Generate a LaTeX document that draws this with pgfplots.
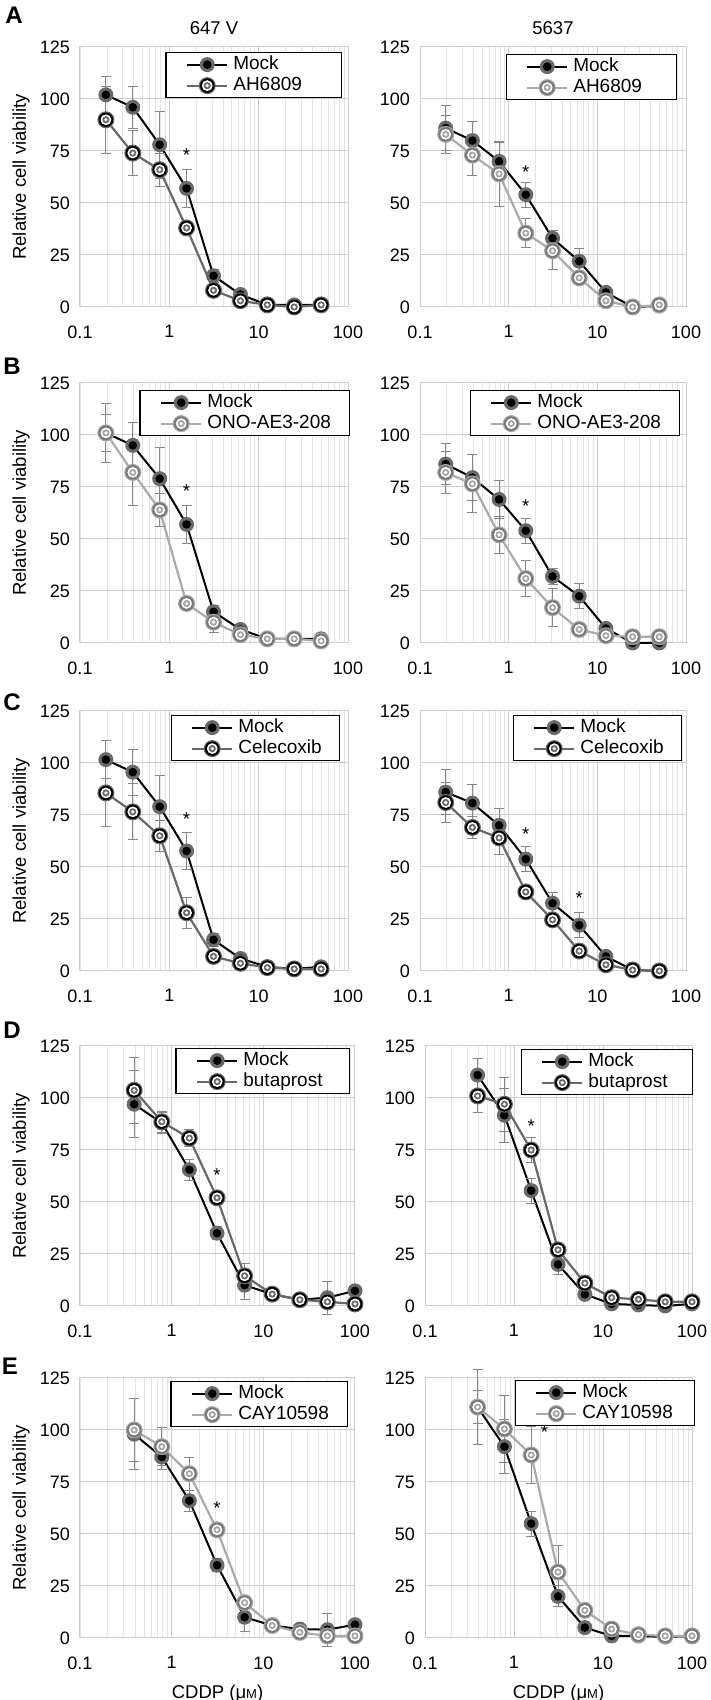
\documentclass[border=0pt]{standalone}
\usepackage{fontspec}
\setmainfont{Liberation Sans}
\usepackage{pgfplots}
\pgfplotsset{compat=1.18}

\definecolor{gridmaj}{RGB}{205,205,205}
\definecolor{gridmin}{RGB}{228,228,228}
\definecolor{errcol}{RGB}{135,135,135}
\definecolor{halo}{RGB}{105,105,105}
\definecolor{lineDark}{RGB}{105,105,105}
\definecolor{lineLight}{RGB}{170,170,170}
\definecolor{ringLight}{RGB}{120,120,120}
\definecolor{haloLight}{RGB}{165,165,165}

% Mock: black dot in a grey halo
\pgfdeclareplotmark{mock}{%
  \pgfsetfillcolor{halo}\pgfpathcircle{\pgfpointorigin}{7.5pt}\pgfusepathqfill
  \pgfsetfillcolor{black}\pgfpathcircle{\pgfpointorigin}{4.3pt}\pgfusepathqfill}
% treatment: concentric rings, dark and light variants
\pgfdeclareplotmark{ringdark}{%
  \pgfsetfillcolor{halo}\pgfpathcircle{\pgfpointorigin}{8.5pt}\pgfusepathqfill
  \pgfsetfillcolor{black}\pgfpathcircle{\pgfpointorigin}{7.3pt}\pgfusepathqfill
  \pgfsetfillcolor{white}\pgfpathcircle{\pgfpointorigin}{5.4pt}\pgfusepathqfill
  \pgfsetfillcolor{halo}\pgfpathcircle{\pgfpointorigin}{3.6pt}\pgfusepathqfill
  \pgfsetfillcolor{white}\pgfpathcircle{\pgfpointorigin}{1.8pt}\pgfusepathqfill}
\pgfdeclareplotmark{ringlight}{%
  \pgfsetfillcolor{haloLight}\pgfpathcircle{\pgfpointorigin}{8.5pt}\pgfusepathqfill
  \pgfsetfillcolor{ringLight}\pgfpathcircle{\pgfpointorigin}{7.3pt}\pgfusepathqfill
  \pgfsetfillcolor{white}\pgfpathcircle{\pgfpointorigin}{5.4pt}\pgfusepathqfill
  \pgfsetfillcolor{haloLight}\pgfpathcircle{\pgfpointorigin}{3.6pt}\pgfusepathqfill
  \pgfsetfillcolor{white}\pgfpathcircle{\pgfpointorigin}{1.8pt}\pgfusepathqfill}

\pgfplotsset{
  every axis/.append style={scale only axis, xmin=0.1, xmax=100, ymin=0, ymax=125, clip=false,
    xtick={0.1,1,10,100}, xticklabels={0.1,1,10,100},
    ytick={0,25,50,75,100,125}, yticklabels={0,25,50,75,100,125},
    grid=both, major grid style={draw=gridmaj, line width=1pt},
    minor grid style={draw=gridmin, line width=0.7pt},
    axis line style={draw=gridmaj, line width=1pt},
    major tick length=0pt, minor tick length=0pt,
    tick label style={font=\fontsize{18}{18}\selectfont},
    xticklabel style={yshift=-15pt}, yticklabel style={xshift=-6.5pt},
    legend cell align=left,
    legend style={at={(1,1)}, anchor=north east, draw=black, line width=1.3pt, fill=white,
      inner xsep=8pt, inner ysep=1.5pt, row sep=0pt, font=\fontsize{19}{20}\selectfont,
      nodes={inner xsep=5pt, inner ysep=1.5pt, text height=14pt, text depth=4pt, align=left}},
  },
  legend image code/.code={\path (-12pt,0pt);
    \draw[mark repeat=2,mark phase=2,#1] plot coordinates {(0pt,0pt) (20pt,0pt) (40pt,0pt)};},
  errs/.style={error bars/y dir=both, error bars/y explicit,
    error bars/error bar style={draw=errcol, line width=1pt},
    error bars/error mark options={rotate=90, draw=errcol, line width=1pt, mark size=5pt}},
  mockp/.style={errs, draw=black, line width=2pt, mark=mock},
  darkp/.style={errs, draw=lineDark, line width=2.2pt, mark=ringdark},
  lightp/.style={errs, draw=lineLight, line width=2.2pt, mark=ringlight},
}

\begin{document}
\begin{tikzpicture}[font=\fontsize{18.5}{20}\selectfont]
\path[use as bounding box] (0,0) rectangle (710pt,1700pt);

\node[font=\fontsize{24}{24}\selectfont\bfseries] at (14pt,1685pt) {A};
\node[font=\fontsize{24}{24}\selectfont\bfseries] at (12pt,1334pt) {B};
\node[font=\fontsize{24}{24}\selectfont\bfseries] at (12pt,998pt) {C};
\node[font=\fontsize{24}{24}\selectfont\bfseries] at (12pt,670pt) {D};
\node[font=\fontsize{24}{24}\selectfont\bfseries] at (10pt,334pt) {E};

% ---- row A ----
\begin{semilogxaxis}[at={(80pt,1393pt)}, anchor=south west, width=268pt, height=260pt,
  legend style={xshift=-6pt, yshift=-5pt, nodes={text width=95pt}}]
\addplot[mockp] coordinates {(0.195,102) +- (0,9) (0.39,96) +- (0,10) (0.78,78) +- (0,16)
  (1.56,57) +- (0,9) (3.125,15) +- (0,3) (6.25,6) +- (0,2) (12.5,1) +- (0,1) (25,1) +- (0,1) (50,1) +- (0,1)};
\addlegendentry{Mock}
\addplot[darkp] coordinates {(0.195,90) +- (0,16) (0.39,74) +- (0,11) (0.78,66) +- (0,8)
  (1.56,38) +- (0,3) (3.125,8) +- (0,2) (6.25,3) +- (0,1) (12.5,1) +- (0,1) (25,0) +- (0,1) (50,1) +- (0,1)};
\addlegendentry{AH6809}
\node at (axis cs:1.56,73) {*};
\node[rotate=90] at ([xshift=-59pt]rel axis cs:0,0.5) {Relative cell viability};
\node at ([yshift=19pt]rel axis cs:0.5,1) {647 V};
\end{semilogxaxis}

\begin{semilogxaxis}[at={(420pt,1393pt)}, anchor=south west, width=266pt, height=260pt,
  legend style={xshift=-9pt, yshift=-7pt, nodes={text width=90pt}}]
\addplot[mockp] coordinates {(0.195,86) +- (0,11) (0.39,80) +- (0,9) (0.78,70) +- (0,9)
  (1.56,54) +- (0,6) (3.125,33) +- (0,4) (6.25,22) +- (0,6) (12.5,7) +- (0,2) (25,0) +- (0,1) (50,0.5) +- (0,1)};
\addlegendentry{Mock}
\addplot[lightp] coordinates {(0.195,83) +- (0,9) (0.39,73) +- (0,10) (0.78,64) +- (0,15.5)
  (1.56,35.5) +- (0,7) (3.125,27) +- (0,9) (6.25,14) +- (0,2) (12.5,3) +- (0,2) (25,0) +- (0,1) (50,1) +- (0,1)};
\addlegendentry{AH6809}
\node at (axis cs:1.56,65) {*};
\node at ([yshift=19pt]rel axis cs:0.5,1) {5637};
\end{semilogxaxis}

% ---- row B ----
\begin{semilogxaxis}[at={(80pt,1057pt)}, anchor=south west, width=268pt, height=260pt,
  legend style={xshift=2pt, yshift=-7pt, nodes={text width=129pt}}]
\addplot[mockp] coordinates {(0.195,101) +- (0,9) (0.39,95) +- (0,11) (0.78,79) +- (0,15)
  (1.56,57) +- (0,9) (3.125,15) +- (0,3) (6.25,6.5) +- (0,2) (12.5,2) +- (0,1) (25,2) +- (0,1) (50,2) +- (0,1)};
\addlegendentry{Mock}
\addplot[lightp] coordinates {(0.195,101) +- (0,14) (0.39,82) +- (0,16) (0.78,64) +- (0,8)
  (1.56,19) +- (0,3) (3.125,10) +- (0,5) (6.25,4) +- (0,1) (12.5,2) +- (0,1) (25,2) +- (0,1) (50,1) +- (0,1)};
\addlegendentry{\mbox{ONO-AE3-208}}
\node at (axis cs:1.56,73) {*};
\node[rotate=90] at ([xshift=-59pt]rel axis cs:0,0.5) {Relative cell viability};
\end{semilogxaxis}

\begin{semilogxaxis}[at={(420pt,1057pt)}, anchor=south west, width=266pt, height=260pt,
  legend style={xshift=-6pt, yshift=-7pt, nodes={text width=129pt}}]
\addplot[mockp] coordinates {(0.195,86) +- (0,10) (0.39,79.5) +- (0,11) (0.78,69) +- (0,9)
  (1.56,54) +- (0,6) (3.125,32) +- (0,4) (6.25,22.5) +- (0,6) (12.5,7) +- (0,2) (25,0) +- (0,1) (50,0) +- (0,1)};
\addlegendentry{Mock}
\addplot[lightp] coordinates {(0.195,82) +- (0,10) (0.39,76.5) +- (0,14) (0.78,52) +- (0,9)
  (1.56,31) +- (0,8.5) (3.125,17) +- (0,9) (6.25,6.5) +- (0,2) (12.5,3.5) +- (0,2) (25,3) +- (0,1) (50,3) +- (0,1)};
\addlegendentry{\mbox{ONO-AE3-208}}
\node at (axis cs:1.56,66) {*};
\end{semilogxaxis}

% ---- row C ----
\begin{semilogxaxis}[at={(80pt,729pt)}, anchor=south west, width=268pt, height=260pt,
  legend style={xshift=-8pt, yshift=-4pt, nodes={text width=88pt}}]
\addplot[mockp] coordinates {(0.195,101.6) +- (0,9) (0.39,95.6) +- (0,11) (0.78,79) +- (0,15)
  (1.56,57.7) +- (0,9) (3.125,15) +- (0,3) (6.25,6) +- (0,2) (12.5,2) +- (0,1) (25,1) +- (0,1) (50,2) +- (0,1)};
\addlegendentry{Mock}
\addplot[darkp] coordinates {(0.195,85.6) +- (0,16) (0.39,76.5) +- (0,13.5) (0.78,65) +- (0,7.5)
  (1.56,28) +- (0,7.5) (3.125,7) +- (0,2) (6.25,3.7) +- (0,1) (12.5,1.6) +- (0,1) (25,1) +- (0,1) (50,1) +- (0,1)};
\addlegendentry{Celecoxib}
\node at (axis cs:1.56,73) {*};
\node[rotate=90] at ([xshift=-59pt]rel axis cs:0,0.5) {Relative cell viability};
\end{semilogxaxis}

\begin{semilogxaxis}[at={(420pt,729pt)}, anchor=south west, width=266pt, height=260pt,
  legend style={xshift=-4pt, yshift=-4pt, nodes={text width=88pt}}]
\addplot[mockp] coordinates {(0.195,86) +- (0,11) (0.39,80.7) +- (0,9) (0.78,70) +- (0,8)
  (1.56,53.8) +- (0,6) (3.125,32.6) +- (0,5) (6.25,22) +- (0,6) (12.5,7) +- (0,2) (25,0.5) +- (0,1) (50,0) +- (0,1)};
\addlegendentry{Mock}
\addplot[darkp] coordinates {(0.195,81) +- (0,9.5) (0.39,69) +- (0,5.5) (0.78,64) +- (0,8)
  (1.56,38) +- (0,3) (3.125,24.6) +- (0,3) (6.25,9.6) +- (0,2) (12.5,3) +- (0,2) (25,0.5) +- (0,1) (50,0) +- (0,1)};
\addlegendentry{Celecoxib}
\node at (axis cs:1.56,66) {*};
\node at (axis cs:6.25,35) {*};
\end{semilogxaxis}

% ---- row D ----
\begin{semilogxaxis}[at={(80pt,394pt)}, anchor=south west, width=275pt, height=260pt,
  legend style={xshift=-5pt, yshift=-2pt, nodes={text width=93pt}}]
\addplot[mockp] coordinates {(0.39,97) +- (0,16) (0.78,88) +- (0,5) (1.56,65.5) +- (0,5)
  (3.125,35) +- (0,3) (6.25,10) +- (0,7) (12.5,5.7) +- (0,2) (25,3) +- (0,1) (50,4) +- (0,8) (100,7.3) +- (0,2)};
\addlegendentry{Mock}
\addplot[darkp] coordinates {(0.39,103.7) +- (0,16) (0.78,88.6) +- (0,5) (1.56,80.7) +- (0,4)
  (3.125,52) +- (0,3) (6.25,14.5) +- (0,6) (12.5,5.7) +- (0,2) (25,3) +- (0,1) (50,2) +- (0,1) (100,1) +- (0,1)};
\addlegendentry{butaprost}
\node at (axis cs:3.125,63) {*};
\node[rotate=90] at ([xshift=-59pt]rel axis cs:0,0.5) {Relative cell viability};
\end{semilogxaxis}

\begin{semilogxaxis}[at={(425pt,394pt)}, anchor=south west, width=267pt, height=260pt,
  legend style={xshift=1pt, yshift=-3pt, nodes={text width=91pt}}]
\addplot[mockp] coordinates {(0.39,111) +- (0,8) (0.78,91.7) +- (0,13) (1.56,55.5) +- (0,6)
  (3.125,20) +- (0,5) (6.25,5.6) +- (0,2) (12.5,1) +- (0,1) (25,0.5) +- (0,1) (50,0) +- (0,1) (100,1) +- (0,1)};
\addlegendentry{Mock}
\addplot[darkp] coordinates {(0.39,101) +- (0,8) (0.78,97) +- (0,13) (1.56,75) +- (0,6)
  (3.125,27) +- (0,3) (6.25,11) +- (0,2) (12.5,4) +- (0,1) (25,3.2) +- (0,1) (50,2) +- (0,1) (100,2) +- (0,1)};
\addlegendentry{butaprost}
\node at (axis cs:1.56,86.5) {*};
\end{semilogxaxis}

% ---- row E ----
\begin{semilogxaxis}[at={(80pt,62pt)}, anchor=south west, width=275pt, height=260pt,
  legend style={xshift=-7pt, yshift=-3pt, nodes={text width=96pt}}]
\addplot[mockp] coordinates {(0.39,98) +- (0,17) (0.78,87) +- (0,6) (1.56,66) +- (0,5)
  (3.125,35) +- (0,3) (6.25,10) +- (0,7) (12.5,6) +- (0,2) (25,4.3) +- (0,1) (50,4) +- (0,8) (100,6.4) +- (0,2)};
\addlegendentry{Mock}
\addplot[lightp] coordinates {(0.39,100) +- (0,15) (0.78,92) +- (0,9) (1.56,79) +- (0,8)
  (3.125,52) +- (0,3) (6.25,17) +- (0,3) (12.5,6) +- (0,2) (25,2.7) +- (0,1) (50,1) +- (0,1) (100,1) +- (0,1)};
\addlegendentry{CAY10598}
\node at (axis cs:3.125,62.5) {*};
\node[rotate=90] at ([xshift=-59pt]rel axis cs:0,0.5) {Relative cell viability};
\node at ([yshift=-56pt]rel axis cs:0.5,0) {CDDP (μ{\fontsize{13}{13}\selectfont M})};
\end{semilogxaxis}

\begin{semilogxaxis}[at={(425pt,62pt)}, anchor=south west, width=267pt, height=260pt,
  legend style={xshift=3pt, yshift=-2pt, nodes={text width=99pt}}]
\addplot[mockp] coordinates {(0.39,111) +- (0,8) (0.78,92) +- (0,13) (1.56,55) +- (0,6)
  (3.125,20) +- (0,5) (6.25,5) +- (0,2) (12.5,1) +- (0,1) (25,1) +- (0,1) (50,0.5) +- (0,1) (100,1) +- (0,1)};
\addlegendentry{Mock}
\addplot[lightp] coordinates {(0.39,111) +- (0,18) (0.78,100.5) +- (0,16) (1.56,88) +- (0,13.5)
  (3.125,31.7) +- (0,13) (6.25,13.3) +- (0,2) (12.5,4.3) +- (0,1) (25,1.6) +- (0,1) (50,1) +- (0,1) (100,1) +- (0,1)};
\addlegendentry{CAY10598}
\node at (axis cs:2.2,99) {*};
\node at ([yshift=-56pt]rel axis cs:0.5,0) {CDDP (μ{\fontsize{13}{13}\selectfont M})};
\end{semilogxaxis}
\end{tikzpicture}
\end{document}
